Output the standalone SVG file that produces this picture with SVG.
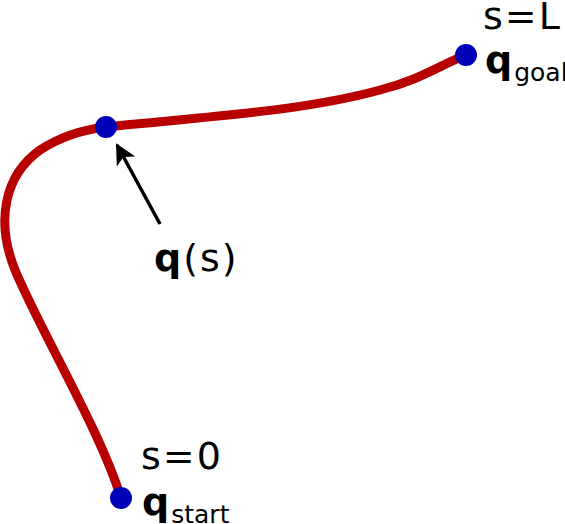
<svg xmlns="http://www.w3.org/2000/svg" width="565" height="524" viewBox="0 0 565 524">
<defs>
<style>
.curve{fill:none;stroke:#b80000;stroke-width:9;stroke-linecap:round}
.pt{fill:#0000b8}
.t{font-family:"DejaVu Sans",sans-serif;font-size:38px;letter-spacing:2px;fill:#000}
.b{font-weight:bold}
.sub{font-size:25px;letter-spacing:0}
</style>
<marker id="ah" viewBox="0 0 10 10" refX="9" refY="5" markerWidth="8" markerHeight="6" markerUnits="strokeWidth" orient="auto">
<path d="M0,0 L10,5 L0,10 L2.5,5 Z" fill="#000"/>
</marker>
</defs>
<g id="connectors">
<path class="curve" d="M121,498 C100,430 40,330 15,270 C-5,220 5,175 40,150 C60,137 80,130 106,127 C200,117 300,112 380,90 C420,80 440,65 466,55"/>
<line x1="160" y1="224" x2="117" y2="145" stroke="#000" stroke-width="3.5" marker-end="url(#ah)"/>
</g>
<g id="start"><circle class="pt" cx="121" cy="498" r="11"/>
<text class="t" x="141" y="469">s=0</text>
<text class="t" x="142" y="515"><tspan class="b">q</tspan><tspan class="sub" dy="8">start</tspan></text></g>
<g id="mid"><circle class="pt" cx="106" cy="127" r="11"/>
<text class="t" x="154" y="271"><tspan class="b">q</tspan>(s)</text></g>
<g id="goal"><circle class="pt" cx="466" cy="55" r="11"/>
<text class="t" x="483" y="29">s=L</text>
<text class="t" x="485" y="73"><tspan class="b">q</tspan><tspan class="sub" dy="8">goal</tspan></text></g>
</svg>
